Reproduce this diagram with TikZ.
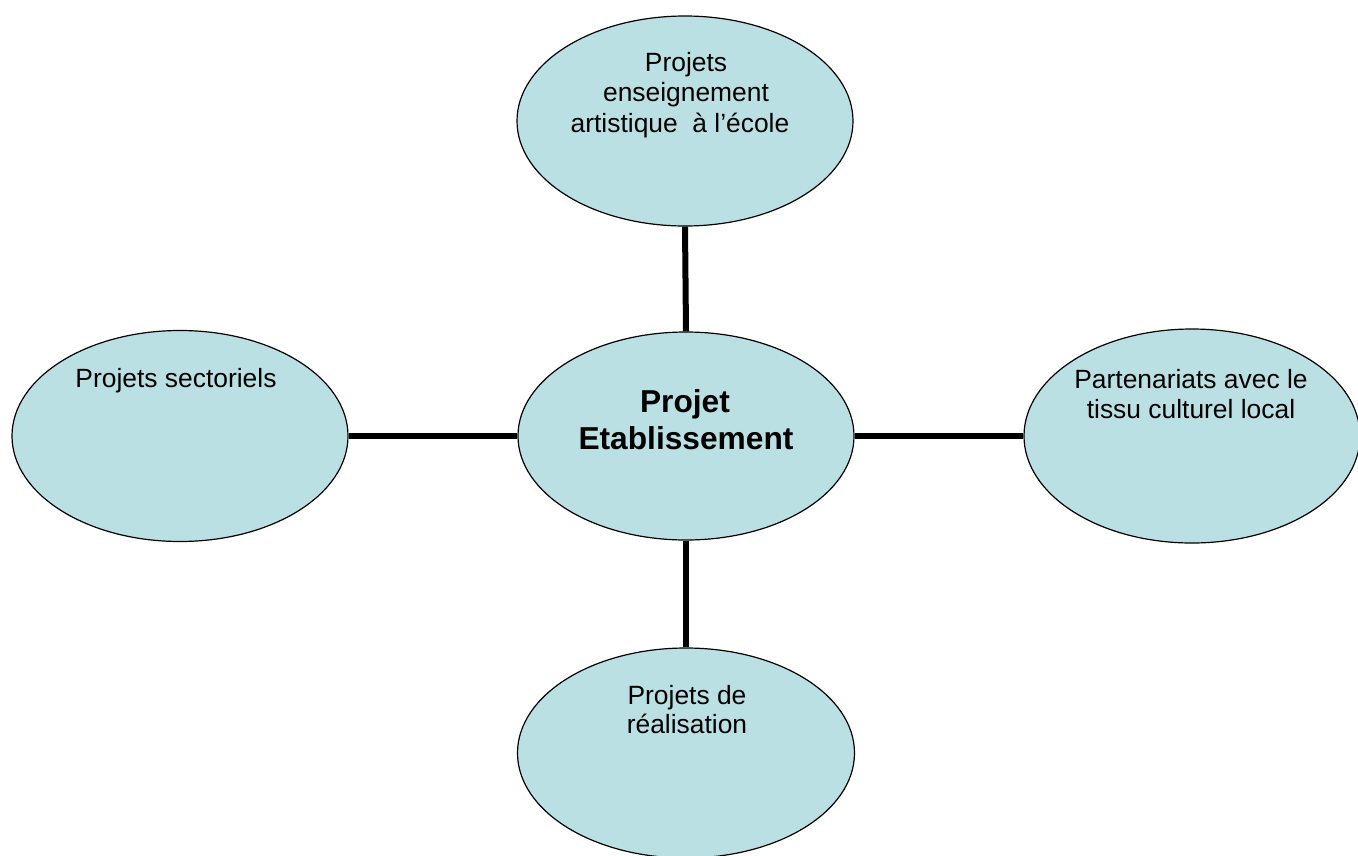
\documentclass[tikz,border=0pt]{standalone}
\usepackage{fontspec}
\setmainfont{Liberation Sans}
\usetikzlibrary{shapes.geometric}
\definecolor{bubblefill}{RGB}{187,224,228}
\begin{document}
\begin{tikzpicture}[x=1pt,y=-1pt,
  bubble/.style={ellipse, draw=black, line width=1.2pt, fill=bubblefill, inner sep=0pt},
  link/.style={line width=6pt},
  lbl/.style={font=\fontsize{26.4}{30.5}\selectfont, anchor=base, inner sep=0pt},
  blbl/.style={font=\fontsize{31.7}{37}\selectfont\bfseries, anchor=base, inner sep=0pt}]
\useasboundingbox (0,0) rectangle (1358,855);
% ellipses
\node[bubble, minimum width=336pt, minimum height=210pt] (top) at (685,121) {};
\node[bubble, minimum width=336pt, minimum height=208pt] (mid) at (686,436) {};
\node[bubble, minimum width=336pt, minimum height=211pt] (left) at (180,436) {};
\node[bubble, minimum width=336pt, minimum height=214pt] (right) at (1192,436) {};
\node[bubble, minimum width=337pt, minimum height=210pt] (bottom) at (686,753) {};
% connectors
\draw[link] (top.south) -- (mid.north);
\draw[link] (mid.south) -- (bottom.north);
\draw[link] (left.east) -- (mid.west);
\draw[link] (mid.east) -- (right.west);
% labels
\node[lbl] (t1) at (686,71) {Projets};
\node[lbl] (t2) at (686,101) {enseignement};
\node[lbl] (t3) at (680,132) {artistique \ à l’école};
\node[blbl] (m1) at (685,412) {Projet};
\node[blbl] (m2) at (686,449) {Etablissement};
\node[lbl] (l1) at (176,387) {Projets sectoriels};
\node[lbl] (r1) at (1191,388) {Partenariats avec le};
\node[lbl] (r2) at (1191,418) {tissu culturel local};
\node[lbl] (b1) at (687,704) {Projets de};
\node[lbl] (b2) at (687,733) {réalisation};
\end{tikzpicture}
\end{document}
